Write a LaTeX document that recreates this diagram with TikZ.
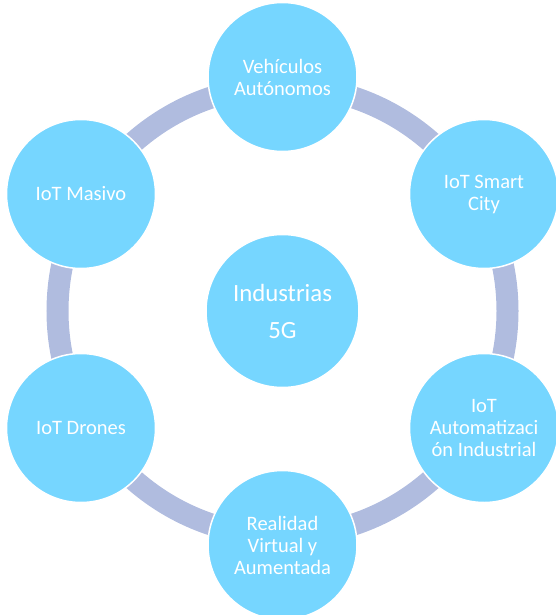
\documentclass[tikz,border=0pt]{standalone}
\usepackage{fontspec}
\setmainfont{Carlito}
\definecolor{bubble}{HTML}{76D6FF}
\definecolor{ringcol}{HTML}{B0BCDF}

\begin{document}
\begin{tikzpicture}[x=1pt, y=-1pt,
  bubble/.style={circle, fill=bubble, draw=white, line width=1.5pt, minimum size=149pt,
    inner sep=0pt, align=center, text=white, font=\fontsize{20.5}{22}\selectfont},
  hub/.style={bubble, minimum size=153pt, font=\fontsize{24.8}{37}\selectfont},
  ring/.style={draw=ringcol, line width=22pt}]
\useasboundingbox (0,0) rectangle (555,615);
\coordinate (o) at (282.5, 311);
\draw[ring] (o) circle (225);
\node[hub] (ind) at (282.5, 311) {Industrias\\5G};
\node[bubble] (veh) at (282.5, 77) {Vehículos\\Autónomos};
\node[bubble] (city) at (484, 194) {IoT Smart\\City};
\node[bubble] (auto) at (484, 428) {IoT\\Automatizaci\\ón Industrial};
\node[bubble] (rv) at (282.5, 545) {Realidad\\Virtual y\\Aumentada};
\node[bubble] (dron) at (81, 428) {IoT Drones};
\node[bubble] (mas) at (81, 194) {IoT Masivo};
\end{tikzpicture}
\end{document}
